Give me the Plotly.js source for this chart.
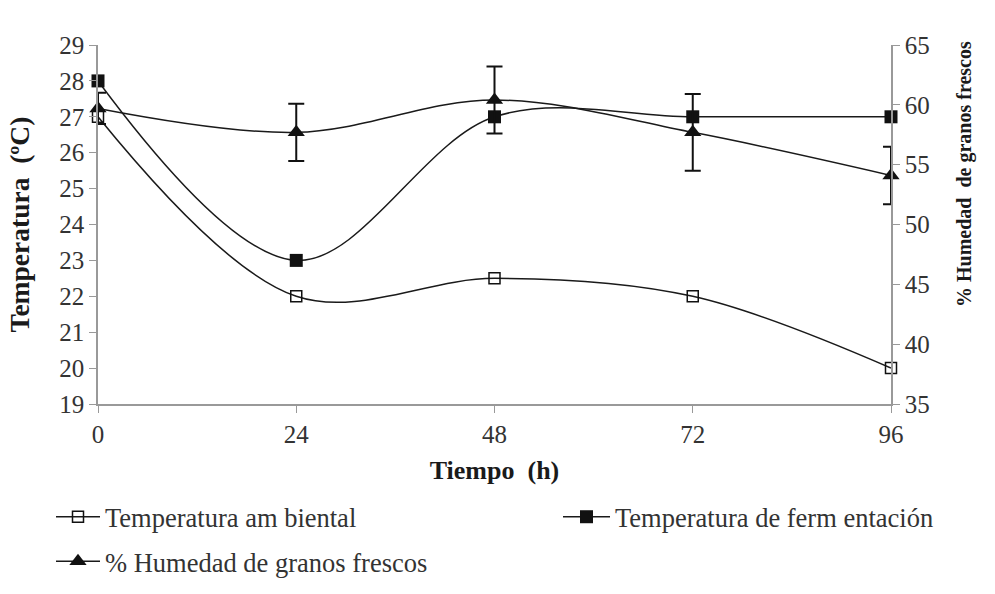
<!DOCTYPE html>
<html><head><meta charset="utf-8">
<script src="https://cdn.plot.ly/plotly-3.0.1.min.js"></script>
<style>body{margin:0;background:#fff}#c{width:995px;height:594px}</style>
</head><body><div id="c"></div>
<script>
const tiempo = [0, 24, 48, 72, 96];
const tempAmbiental = [27, 22, 22.5, 22, 20];
const tempFermentacion = [28, 23, 27, 27, 27];
const humedad = [59.7, 57.7, 60.4, 57.7, 54.1];
const humedadError = [1.3, 2.4, 2.8, 3.2, 2.4];
const names = ["Temperatura am biental", "Temperatura de ferm entación", "% Humedad de granos frescos"];
const rightTitle = "<b>% Humedad  de granos frescos</b>";

const fam = "Liberation Serif, Times New Roman, serif";
const line = {color: "#1a1a1a", width: 1.5, shape: "spline", smoothing: 1};

const traces = [
  {x: tiempo, y: tempAmbiental, name: names[0], mode: "lines+markers", line: line, cliponaxis: false,
   legend: "legend", legendgroup: "a", legendrank: 1,
   marker: {symbol: "square-open", size: 11, color: "#111", line: {width: 1.5}}},
  {x: tiempo, y: tempFermentacion, name: names[1], mode: "lines+markers", line: line, cliponaxis: false,
   legend: "legend2", legendgroup: "b",
   marker: {symbol: "square", size: 13, color: "#111"}},
  {x: tiempo, y: humedad, name: names[2], yaxis: "y2", mode: "lines+markers", line: line, cliponaxis: false,
   legend: "legend", legendgroup: "c", legendrank: 2,
   marker: {symbol: "triangle-up", size: 15, color: "#111"},
   error_y: {type: "data", array: humedadError, visible: true, color: "#111", thickness: 2, width: 8}}
];

const axisCommon = {showgrid: false, zeroline: false, showline: true, linecolor: "#999", linewidth: 1.5,
  automargin: false,
  ticks: "outside", ticklen: 7, tickcolor: "#999", tickfont: {size: 25, family: fam, color: "#333"}};
const titleFont = {size: 26, family: fam, color: "#1a1a1a"};
const legFont = {size: 26.5, family: fam, color: "#333"};

const plotW = 995 - 98 - 104, plotH = 594 - 45 - 190;
const layout = {
  width: 995, height: 594, paper_bgcolor: "#fff", plot_bgcolor: "#fff",
  margin: {l: 98, r: 104, t: 45, b: 190, autoexpand: false},
  font: {family: fam, color: "#222"}, showlegend: true,
  xaxis: Object.assign({}, axisCommon, {range: [0, 96], tickvals: tiempo, ticktext: tiempo.map(String),
    title: {text: "<b>Tiempo  (h)</b>", font: titleFont, standoff: 14}}),
  yaxis: Object.assign({}, axisCommon, {range: [19, 29], dtick: 1,
    title: {text: "<b>Temperatura  (ºC)</b>", font: {size: 27.5, family: fam, color: "#1a1a1a"}, standoff: 22}}),
  yaxis2: Object.assign({}, axisCommon, {range: [35, 65], dtick: 5, overlaying: "y", side: "right"}),
  annotations: [{text: rightTitle, textangle: -90, xref: "paper", yref: "paper",
    x: 1 + (964 - 891) / plotW, y: (404 - 174) / plotH, xanchor: "center", yanchor: "middle",
    showarrow: false, font: {size: 20, family: fam, color: "#1a1a1a"}}],
  legend: {orientation: "v", x: (51 - 98) / plotW, y: (404 - 493) / plotH, yanchor: "top",
    font: legFont, tracegroupgap: 7, itemwidth: 44, bgcolor: "rgba(0,0,0,0)"},
  legend2: {orientation: "v", x: (558 - 98) / plotW, y: (404 - 493) / plotH, yanchor: "top",
    font: legFont, itemwidth: 47, bgcolor: "rgba(0,0,0,0)"}
};
Plotly.newPlot("c", traces, layout, {displayModeBar: false});
</script></body></html>
